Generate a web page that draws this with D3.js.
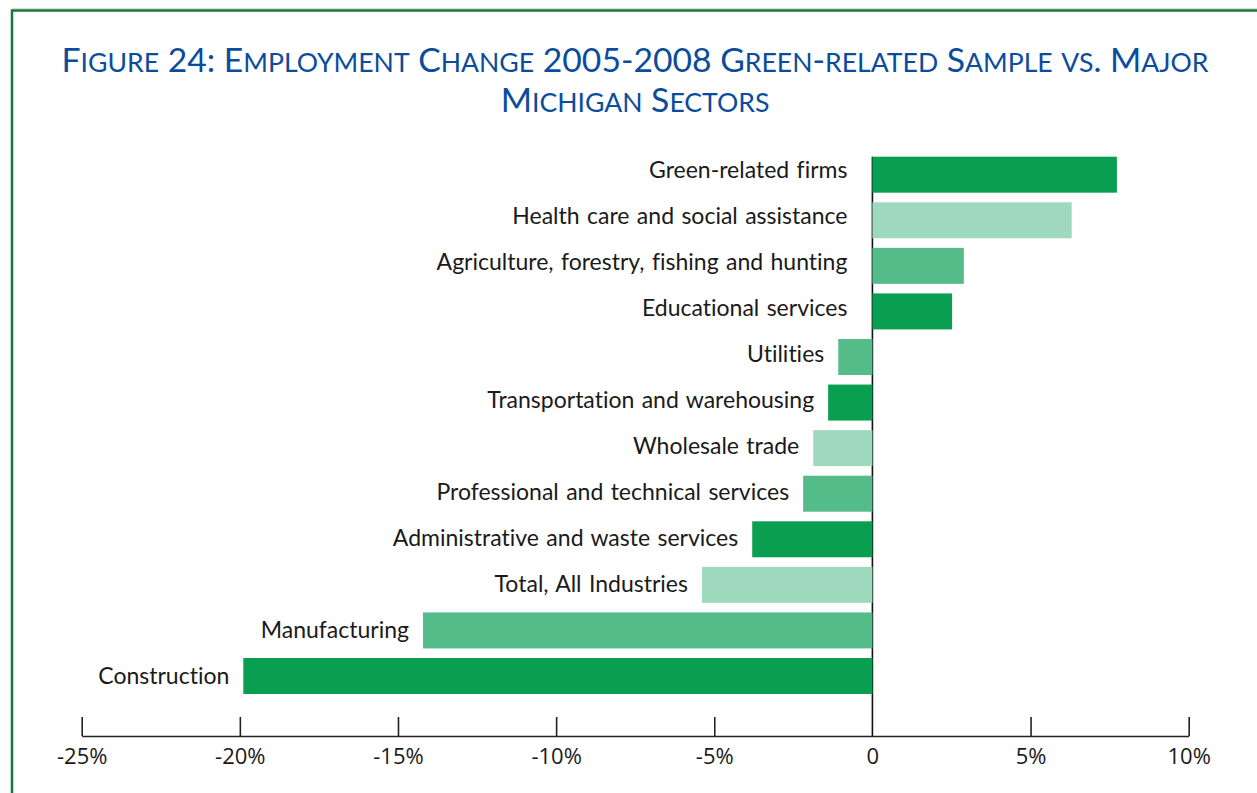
<!DOCTYPE html>
<html>
<head>
<meta charset="utf-8">
<script src="https://cdn.jsdelivr.net/npm/d3@7"></script>
<style>
  html, body { margin: 0; padding: 0; background: #fff; }
  svg { display: block; }
</style>
</head>
<body>
<svg id="chart" width="1257" height="793"></svg>
<script>
// Sectors, top to bottom
const categories = [
  "Green-related firms",
  "Health care and social assistance",
  "Agriculture, forestry, fishing and hunting",
  "Educational services",
  "Utilities",
  "Transportation and warehousing",
  "Wholesale trade",
  "Professional and technical services",
  "Administrative and waste services",
  "Total, All Industries",
  "Manufacturing",
  "Construction"
];
// Employment change 2005-2008, percent
const changes = [7.73, 6.30, 2.89, 2.52, -1.08, -1.40, -1.87, -2.19, -3.80, -5.39, -14.21, -19.89];
// Shade of green used for each bar
const shades = ["dark", "light", "medium", "dark", "medium", "dark", "light", "medium", "dark", "light", "medium", "dark"];
const tickValues = [-25, -20, -15, -10, -5, 0, 5, 10];
const titleLines = [
  "Figure 24: Employment Change 2005-2008 Green-related Sample vs. Major",
  "Michigan Sectors"
];

const palette = { dark: "#0a9e50", medium: "#54bc88", light: "#9ed9bd" };

const svg = d3.select("#chart");

// Frame
svg.append("line").attr("x1", 12).attr("x2", 1257).attr("y1", 8.5).attr("y2", 8.5)
  .attr("stroke", "#d6dcd8").attr("stroke-width", 1);
svg.append("path")
  .attr("d", "M12,793 L12,10.5 L1257,10.5")
  .attr("fill", "none").attr("stroke", "#17773b").attr("stroke-width", 2.5);

// Title in small caps
const title = svg.append("text")
  .attr("text-anchor", "middle")
  .attr("fill", "#0b4c9c")
  .style("font-family", "Lato, 'Open Sans', sans-serif")
  .style("font-weight", 400);
const capSize = 33.7, smallSize = 26.6;
titleLines.forEach((line, li) => {
  const t = title.append("tspan").attr("x", 635).attr("y", 72 + li * 40);
  // split into runs of lowercase vs. everything else
  const runs = line.match(/[a-z]+|[^a-z]+/g);
  runs.forEach(r => {
    const lower = /^[a-z]/.test(r);
    t.append("tspan")
      .style("font-size", (lower ? smallSize : capSize) + "px")
      .text(r.toUpperCase());
  });
});

// Scales
const x = d3.scaleLinear().domain([-25, 10]).range([81.7, 1188.7]);
const y = d3.scaleBand().domain(categories).range([156.7, 694]).paddingInner(0.21).paddingOuter(0);
// label baselines run on a slightly wider pitch than the bars
const labelY = d3.scalePoint().domain(categories).range([177.5, 684]);
const axisY = 736;

// Zero line
svg.append("line")
  .attr("x1", x(0)).attr("x2", x(0))
  .attr("y1", y.range()[0]).attr("y2", axisY)
  .attr("stroke", "#111").attr("stroke-width", 1.6);

// Bars
const rows = categories.map((c, i) => ({ name: c, value: changes[i], shade: shades[i] }));
svg.append("g").selectAll("rect").data(rows).join("rect")
  .attr("x", d => x(Math.min(0, d.value)))
  .attr("width", d => Math.abs(x(d.value) - x(0)))
  .attr("y", d => y(d.name))
  .attr("height", y.bandwidth())
  .attr("fill", d => palette[d.shade]);

// Category labels, set just left of each bar's base
svg.append("g").selectAll("text").data(rows).join("text")
  .attr("x", d => d.value >= 0 ? x(0) - 25 : x(d.value) - 14)
  .attr("y", d => labelY(d.name))
  .attr("text-anchor", "end")
  .attr("fill", "#1a1a1a")
  .style("font-family", "Lato, 'Open Sans', sans-serif")
  .style("font-size", "23px")
  .style("word-spacing", "1.5px")
  .style("font-variant-ligatures", "none")
  .text(d => d.name);

// Bottom axis
const axis = d3.axisBottom(x)
  .tickValues(tickValues)
  .tickSize(0)
  .tickPadding(0)
  .tickFormat(d => d === 0 ? "0" : d + "%");
const gAxis = svg.append("g").attr("transform", `translate(0,${axisY})`).call(axis);
gAxis.attr("font-family", null).attr("font-size", null);
gAxis.select(".domain").attr("stroke", "#222").attr("stroke-width", 1.6);
gAxis.selectAll(".tick line")
  .attr("y1", 0).attr("y2", d => d === 0 ? 0 : -19)
  .attr("stroke", "#222").attr("stroke-width", 1.6);
gAxis.selectAll(".tick text")
  .attr("y", 28)
  .attr("dy", 0)
  .attr("fill", "#1a1a1a")
  .style("font-family", "'Open Sans', Lato, sans-serif")
  .style("font-size", "22px");
</script>
</body>
</html>
